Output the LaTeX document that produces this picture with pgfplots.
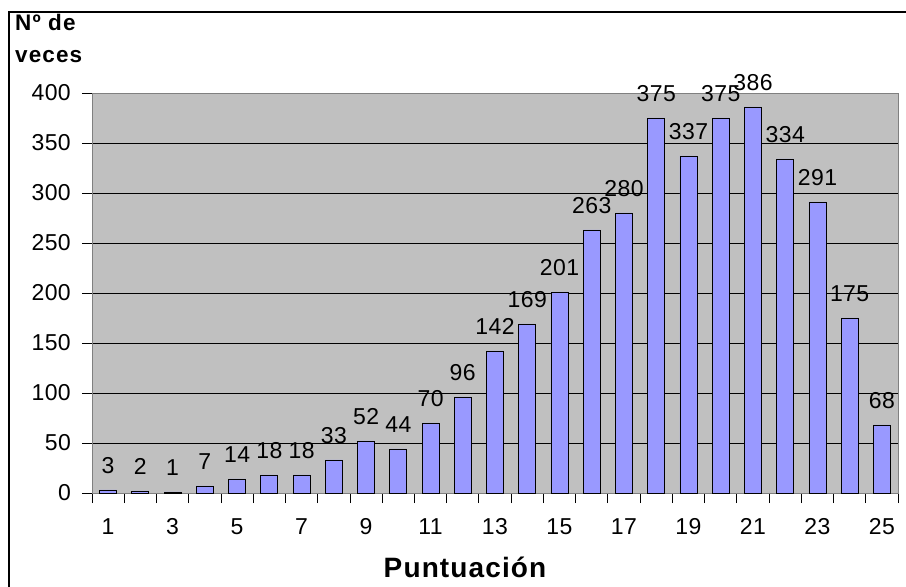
\documentclass[border=0pt]{standalone}
\usepackage{fontspec}
\setmainfont{Liberation Sans}
\newfontfamily\numfont[LetterSpace=2]{Liberation Sans}
\newfontfamily\spaced[LetterSpace=5]{Liberation Sans}
\newfontfamily\xspaced[LetterSpace=4]{Liberation Sans}
\usepackage{pgfplots}
\pgfplotsset{compat=1.18}
\definecolor{plotbg}{HTML}{C0C0C0}
\definecolor{barfill}{HTML}{9999FF}
\definecolor{frame}{HTML}{808080}
\begin{document}
\begin{tikzpicture}
\useasboundingbox (0,0) rectangle (906bp,587bp);
\fill[white] (0,0) rectangle (906bp,587bp);
\begin{axis}[
  at={(92bp,94bp)}, anchor=south west,
  scale only axis, width=806bp, height=400bp,
  xmin=0.5, xmax=25.5, ymin=0, ymax=400,
  axis background/.style={fill=plotbg},
  axis line style={frame, line width=0.8bp},
  ytick={0,50,...,350},
  extra y ticks={400},
  extra y tick style={grid=none},
  xtick={1,3,...,25},
  minor xtick={0.5,1.5,...,25.5},
  major x tick style={draw=none},
  minor x tick style={black, line width=0.8bp},
  y tick style={black, line width=0.8bp},
  tick align=outside,
  major tick length=10bp, minor tick length=10bp,
  xtick pos=bottom, ytick pos=left,
  ymajorgrids,
  grid style={black, line width=0.8bp},
  ticklabel style={font=\numfont\fontsize{23bp}{23bp}\selectfont, inner sep=0pt},
  /pgf/number format/assume math mode=true,
  yticklabel style={anchor=east, xshift=-11bp},
  xticklabel style={anchor=north, yshift=-15bp},
  ybar, bar width=17bp,
  clip=false,
  nodes near coords,
  nodes near coords style={font=\numfont\fontsize{23bp}{23bp}\selectfont, inner sep=0pt, anchor=south, yshift=16bp},
]
\addplot[fill=barfill, draw=black, line width=0.8bp] coordinates {
(1,3) (2,2) (3,1) (4,7) (5,14) (6,18) (7,18) (8,33) (9,52) (10,44)
(11,70) (12,96) (13,142) (14,169) (15,201) (16,263) (17,280) (18,375)
(19,337) (20,375) (21,386) (22,334) (23,291) (24,175) (25,68)
};
\end{axis}
\draw[black, line width=1.6bp] (9bp,0) -- (9bp,575bp) -- (906bp,575bp);
\node[anchor=base west, inner sep=0pt, font=\spaced\bfseries\fontsize{22.5bp}{22.5bp}\selectfont] at (15bp,556bp) {Nº de};
\node[anchor=base west, inner sep=0pt, font=\spaced\bfseries\fontsize{22.5bp}{22.5bp}\selectfont] at (15bp,524bp) {veces};
\node[anchor=base, inner sep=0pt, font=\xspaced\bfseries\fontsize{28bp}{28bp}\selectfont] at (465bp,10bp) {Puntuación};
\end{tikzpicture}
\end{document}
